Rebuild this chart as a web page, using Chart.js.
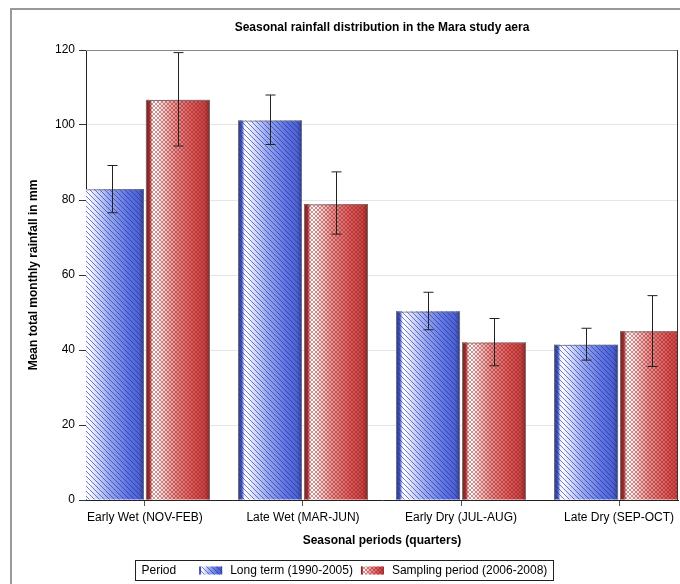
<!DOCTYPE html>
<html>
<head>
<meta charset="utf-8">
<script src="https://cdn.jsdelivr.net/npm/chart.js@4.4.1/dist/chart.umd.min.js"></script>
<style>
  html, body { margin: 0; padding: 0; background: #fff; }
  #wrap { width: 680px; height: 584px; }
</style>
</head>
<body>
<div id="wrap"><canvas id="rain" width="680" height="584"></canvas></div>
<script>
const categories = ["Early Wet (NOV-FEB)", "Late Wet (MAR-JUN)", "Early Dry (JUL-AUG)", "Late Dry (SEP-OCT)"];

const longTerm = [82.9, 101.2, 50.3, 41.4];
const longTermLow = [76.6, 94.8, 45.4, 37.3];
const longTermHigh = [89.2, 108.0, 55.4, 45.8];

const sampling = [106.7, 78.9, 42.0, 45.0];
const samplingLow = [94.4, 70.9, 35.8, 35.6];
const samplingHigh = [119.3, 87.5, 48.4, 54.5];

const seriesNames = ["Long term (1990-2005)", "Sampling period (2006-2008)"];
const yTicks = [0, 20, 40, 60, 80, 100, 120];

const FONT = "'Liberation Sans', Arial, sans-serif";
Chart.defaults.font.family = FONT;
Chart.defaults.font.size = 12;
Chart.defaults.color = "#000";

// gradient stops for the "3D" bar shading
const blueStops = [
  [0, "#2c3b88"], [0.06, "#4456b4"], [0.1, "#eef1ff"], [0.13, "#ffffff"],
  [0.45, "#9aa9ea"], [0.75, "#5f74dc"], [0.92, "#4f63cc"], [1, "#2f3f96"]
];
const redStops = [
  [0, "#742222"], [0.06, "#a53636"], [0.1, "#fbe8e8"], [0.13, "#ffffff"],
  [0.45, "#ea9090"], [0.75, "#dc5656"], [0.92, "#c94646"], [1, "#862828"]
];

function makePattern(ctx, kind) {
  const c = document.createElement("canvas");
  const s = kind === "diag" ? 5 : 4;
  c.width = s; c.height = s;
  const p = c.getContext("2d");
  p.lineWidth = 1;
  if (kind === "diag") {
    p.strokeStyle = "rgba(25,40,185,0.6)";
    p.beginPath();
    p.moveTo(-1, -1); p.lineTo(s + 1, s + 1);
    p.moveTo(-1 - s, -1); p.lineTo(1, s + 1);
    p.moveTo(s - 1, -1); p.lineTo(2 * s + 1, s + 1);
    p.stroke();
  } else {
    p.strokeStyle = "rgba(140,25,25,0.45)";
    p.beginPath();
    p.moveTo(0, 0); p.lineTo(s, s);
    p.moveTo(s, 0); p.lineTo(0, s);
    p.stroke();
  }
  return ctx.createPattern(c, "repeat");
}

function paintBar(ctx, left, top, w, h, stops, pattern) {
  const g = ctx.createLinearGradient(left, 0, left + w, 0);
  stops.forEach((s) => g.addColorStop(s[0], s[1]));
  ctx.fillStyle = g;
  ctx.fillRect(left, top, w, h);
  ctx.fillStyle = pattern;
  ctx.fillRect(left, top, w, h);
}

const barFill = {
  id: "barFill",
  beforeDatasetDraw(chart, args) {
    const ctx = chart.ctx;
    const a = chart.chartArea;
    const stops = args.index === 0 ? blueStops : redStops;
    const pat = makePattern(ctx, args.index === 0 ? "diag" : "cross");
    ctx.save();
    ctx.beginPath();
    ctx.rect(a.left, a.top, a.right - a.left, a.bottom - a.top);
    ctx.clip();
    args.meta.data.forEach((el) => {
      const left = el.x - el.width / 2;
      paintBar(ctx, left, el.y, el.width, el.base - el.y, stops, pat);
    });
    ctx.restore();
  },
};

const errorBars = {
  id: "errorBars",
  afterDatasetsDraw(chart) {
    const ctx = chart.ctx;
    const y = chart.scales.y;
    const lows = [longTermLow, samplingLow];
    const highs = [longTermHigh, samplingHigh];
    ctx.save();
    ctx.strokeStyle = "#222";
    ctx.lineWidth = 1;
    [0, 1].forEach((d) => {
      chart.getDatasetMeta(d).data.forEach((el, i) => {
        const x = Math.round(el.x) + 0.5;
        const y1 = y.getPixelForValue(highs[d][i]);
        const y2 = y.getPixelForValue(lows[d][i]);
        ctx.beginPath();
        ctx.moveTo(x, y1); ctx.lineTo(x, y2);
        ctx.moveTo(x - 5, y1); ctx.lineTo(x + 5, y1);
        ctx.moveTo(x - 5, y2); ctx.lineTo(x + 5, y2);
        ctx.stroke();
      });
    });
    ctx.restore();
  },
};

const decorations = {
  id: "decorations",
  afterDraw(chart) {
    const ctx = chart.ctx;
    const a = chart.chartArea;
    ctx.save();
    // outer frame
    ctx.strokeStyle = "#999";
    ctx.lineWidth = 2;
    ctx.strokeRect(11, 9, 700, 600);
    // plot frame (top and right)
    ctx.lineWidth = 1;
    ctx.strokeStyle = "#888";
    ctx.beginPath();
    ctx.moveTo(a.left, a.top + 0.5); ctx.lineTo(a.right, a.top + 0.5);
    ctx.stroke();
    ctx.strokeStyle = "#333";
    ctx.beginPath();
    ctx.moveTo(a.right - 0.5, a.top); ctx.lineTo(a.right - 0.5, a.bottom);
    ctx.stroke();

    // title
    ctx.fillStyle = "#000";
    ctx.font = "bold 12px " + FONT;
    ctx.textAlign = "center";
    ctx.textBaseline = "middle";
    ctx.fillText("Seasonal rainfall distribution in the Mara study aera", (a.left + a.right) / 2, 28);

    // legend
    ctx.font = "12px " + FONT;
    ctx.textAlign = "left";
    const pad = 6, sw = 23, sh = 8, gapAfterTitle = 23, gapSw = 8, gapItem = 8;
    const wTitle = ctx.measureText("Period").width;
    const w1 = ctx.measureText(seriesNames[0]).width;
    const w2 = ctx.measureText(seriesNames[1]).width;
    const total = pad + wTitle + gapAfterTitle + sw + gapSw + w1 + gapItem + sw + gapSw + w2 + pad;
    const bx = Math.round(344 - total / 2) + 0.5;
    const by = 560.5, bh = 20, cy = by + bh / 2;
    ctx.strokeStyle = "#222";
    ctx.lineWidth = 1;
    ctx.strokeRect(bx, by, Math.round(total), bh);
    let x = bx + pad;
    ctx.fillText("Period", x, cy);
    x += wTitle + gapAfterTitle;
    [[blueStops, "diag"], [redStops, "cross"]].forEach((s, i) => {
      paintBar(ctx, x, cy - sh / 2, sw, sh, s[0], makePattern(ctx, s[1]));
      x += sw + gapSw;
      ctx.fillStyle = "#000";
      ctx.fillText(seriesNames[i], x, cy);
      x += (i === 0 ? w1 : w2) + gapItem;
    });
    ctx.restore();
  },
};

function toPoints(vals) {
  return vals.map((v, i) => ({ x: i, y: v }));
}

new Chart(document.getElementById("rain"), {
  type: "bar",
  data: {
    datasets: [
      {
        label: seriesNames[0],
        data: toPoints(longTerm),
        backgroundColor: "rgba(0,0,0,0)",
        borderColor: "#70707c",
        borderWidth: 1,
        clip: 0,
      },
      {
        label: seriesNames[1],
        data: toPoints(sampling),
        backgroundColor: "rgba(0,0,0,0)",
        borderColor: "#7c7070",
        borderWidth: 1,
        clip: 0,
      },
    ],
  },
  options: {
    responsive: false,
    animation: false,
    devicePixelRatio: 1,
    barPercentage: 0.97,
    categoryPercentage: 0.835,
    layout: { padding: { top: 50, left: 0, right: 2, bottom: 34 } },
    plugins: {
      legend: { display: false },
      title: { display: false },
      tooltip: { enabled: false },
    },
    scales: {
      x: {
        type: "linear",
        offset: false,
        min: -0.373,
        max: 3.373,
        afterFit: (scale) => { scale.height = 50; },
        afterBuildTicks: (scale) => { scale.ticks = categories.map((c, i) => ({ value: i })); },
        ticks: {
          padding: 4,
          maxRotation: 0,
          autoSkip: false,
          font: { size: 12 },
          callback: (v) => categories[v],
        },
        grid: { offset: false, drawOnChartArea: false, tickLength: 6, color: "#555" },
        border: { color: "#222", width: 1 },
        title: {
          display: true,
          text: "Seasonal periods (quarters)",
          font: { size: 12, weight: "bold" },
          padding: { top: 4, bottom: 2 },
        },
      },
      y: {
        min: 0,
        max: 120,
        afterFit: (scale) => { scale.width = 86; },
        afterBuildTicks: (scale) => { scale.ticks = yTicks.map((v) => ({ value: v })); },
        ticks: { padding: 4, font: { size: 12 } },
        grid: {
          color: (c) => (c.tick && (c.tick.value === 0 || c.tick.value === 120) ? "rgba(0,0,0,0)" : "#e6e6e6"),
          tickColor: "#333",
          tickLength: 7,
        },
        border: { color: "#222", width: 1 },
        title: {
          display: true,
          text: "Mean total monthly rainfall in mm",
          font: { size: 12, weight: "bold" },
          padding: { top: 26, bottom: 0 },
        },
      },
    },
  },
  plugins: [barFill, errorBars, decorations],
});
</script>
</body>
</html>
